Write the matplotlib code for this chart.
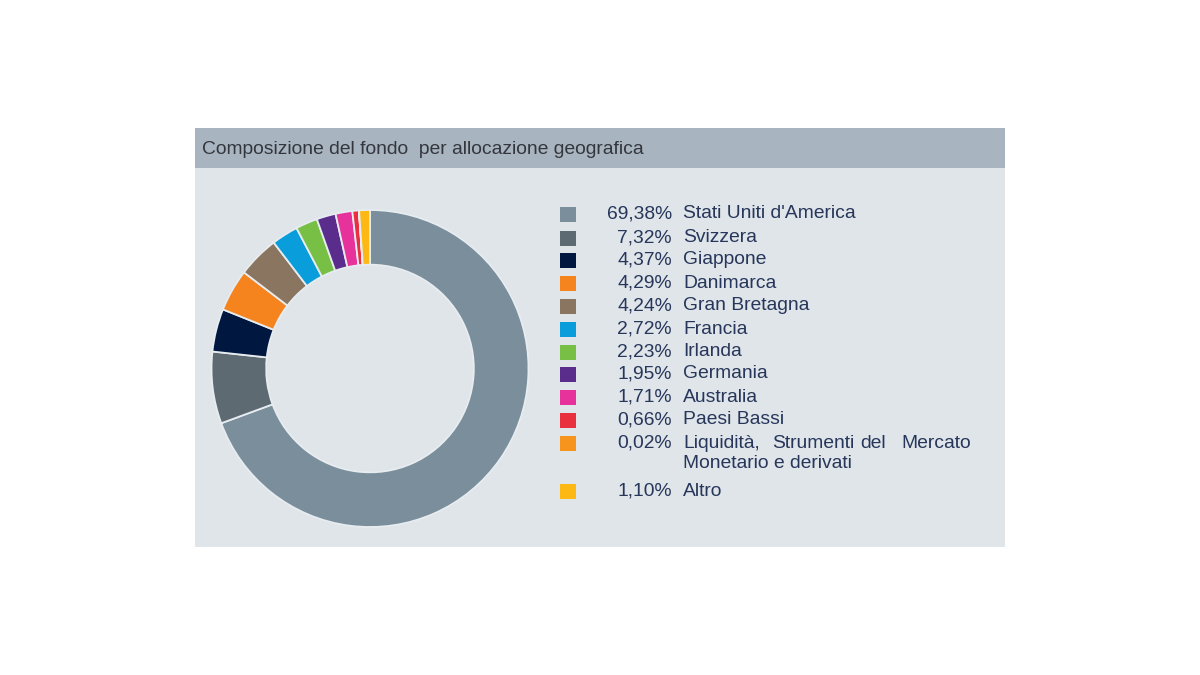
import matplotlib
matplotlib.use("Agg")
import matplotlib.pyplot as plt
from matplotlib.patches import Rectangle

plt.rcParams['font.family'] = ['Liberation Sans', 'DejaVu Sans']

title = "Composizione del fondo  per allocazione geografica"
labels = ["Stati Uniti d'America", "Svizzera", "Giappone", "Danimarca", "Gran Bretagna",
          "Francia", "Irlanda", "Germania", "Australia", "Paesi Bassi",
          "Liquidità, Strumenti del Mercato Monetario e derivati", "Altro"]
values = [69.38, 7.32, 4.37, 4.29, 4.24, 2.72, 2.23, 1.95, 1.71, 0.66, 0.02, 1.10]
colors = ["#7a8e9b", "#5d6a72", "#00183f", "#f5841f", "#8a7560", "#0a9ddb",
          "#77bf45", "#5a2d8c", "#e6329a", "#e8303f", "#f7941d", "#fdb813"]

W, H = 1200, 675
fig = plt.figure(figsize=(12, 6.75), dpi=100)
fig.patch.set_facecolor("white")

bg = fig.add_axes([0, 0, 1, 1])
bg.set_xlim(0, W)
bg.set_ylim(H, 0)
bg.axis("off")

# panel
panel_bg = "#dfe5e9"
bg.add_patch(Rectangle((195, 128), 810, 419, facecolor=panel_bg, edgecolor="none"))
bg.add_patch(Rectangle((195, 128), 810, 40, facecolor="#a8b5c0", edgecolor="none"))
bg.text(202, 150, title, fontsize=13.9, color="#34363d", va="center", ha="left")

# donut
cx, cy, r = 370, 368.5, 158.5
ax = fig.add_axes([(cx - r) / W, (H - cy - r) / H, 2 * r / W, 2 * r / H])
ax.pie(values, colors=colors, startangle=90, counterclock=False, radius=1,
       wedgeprops=dict(width=0.345, edgecolor="#e6ecf0", linewidth=1.3))
ax.set_xlim(-1, 1)
ax.set_ylim(-1, 1)
ax.set_aspect("equal")
ax.axis("off")

# legend
text_color = "#27365a"
rows_y = [214, 238, 260, 283, 306, 329, 352, 374, 397, 420, 443, 491]
fs = 13.9
for i, (lab, val, col) in enumerate(zip(labels, values, colors)):
    y = rows_y[i]
    bg.add_patch(Rectangle((560, y - 7.5), 16, 15, facecolor=col, edgecolor="none"))
    pct = f"{val:.2f}".replace(".", ",") + "%"
    bg.text(672, y, pct, fontsize=fs, color=text_color, ha="right", va="center")
    if lab.startswith("Liquidità"):
        words = ["Liquidità,", "Strumenti", "del", "Mercato"]
        xs = [683, 772, 860, 901]
        for w_, x_ in zip(words, xs):
            bg.text(x_, y, w_, fontsize=fs, color=text_color, ha="left", va="center")
        bg.text(683, y + 21, "Monetario e derivati", fontsize=fs, color=text_color,
                ha="left", va="center")
    else:
        bg.text(683, y, lab, fontsize=fs, color=text_color, ha="left", va="center")

fig.savefig("out.png", dpi=100, facecolor="white")
